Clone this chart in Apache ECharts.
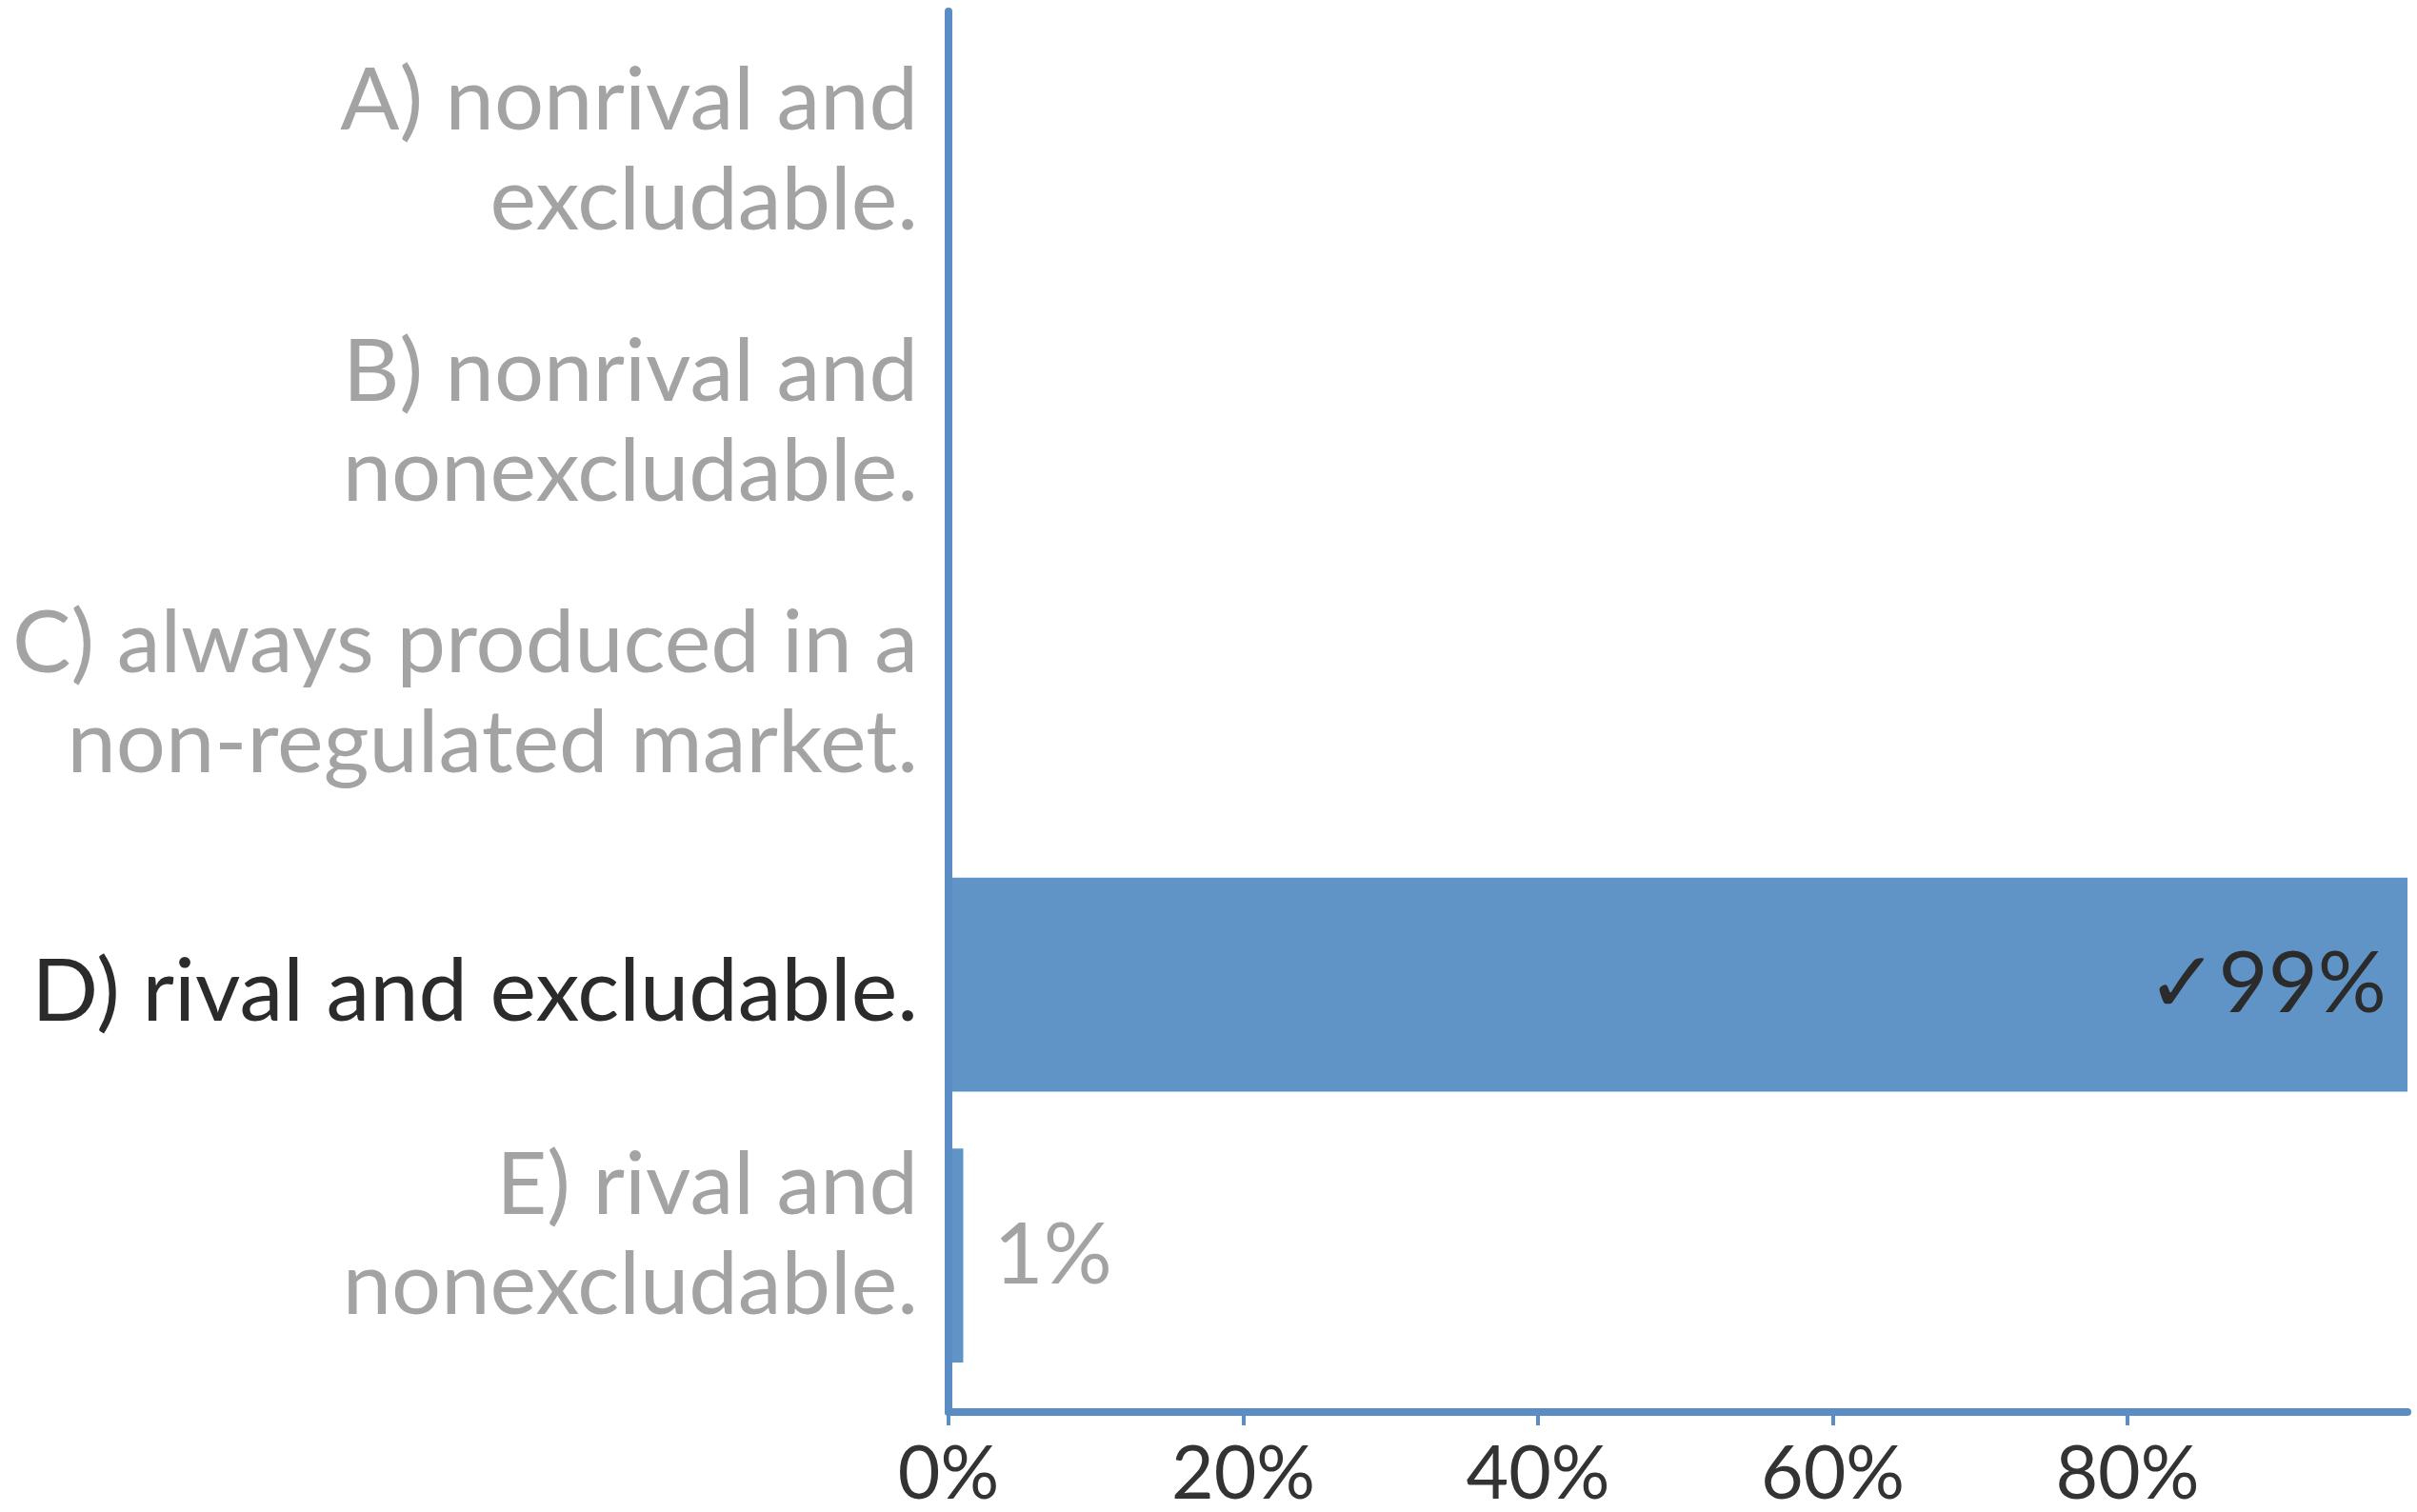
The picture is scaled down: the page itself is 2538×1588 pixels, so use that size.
<!DOCTYPE html>
<html>
<head>
<meta charset="utf-8">
<title>Poll results</title>
<script src="https://cdn.jsdelivr.net/npm/echarts@6/dist/echarts.min.js"></script>
<style>
  html, body { margin: 0; padding: 0; background: #ffffff; }
  #chart { width: 2538px; height: 1588px; }
</style>
</head>
<body>
<div id="chart"></div>
<script>
// Answer options (top to bottom) and share of responses, in percent
const categories = [
  'A) nonrival and\nexcludable.',
  'B) nonrival and\nnonexcludable.',
  'C) always produced in a\nnon-regulated market.',
  'D) rival and excludable.',
  'E) rival and\nnonexcludable.'
];
const shares = [0, 0, 0, 99, 1];
const correct = [false, false, false, true, false];
const xTicks = [0, 20, 40, 60, 80];

const FONT = 'Lato, "Source Sans Pro", "Liberation Sans", sans-serif';
const BLUE = '#6194c6';
const AXIS_BLUE = '#5b8cc4';
const GREY = '#a3a3a3';
const DARK = '#2b2b2b';

const xMax = Math.max(...shares);

// Answer label: two-line labels sit a little above the band centre,
// single-line ones a little below, using thin spacer lines.
function answerLabel(value, index) {
  const style = correct[index] ? 'k' : 'g';
  const lines = value.split('\n').map(l => '{' + style + '|' + l + '}');
  if (lines.length > 1) {
    return lines.join('\n') + '\n{lo| }';
  }
  return '{hi| }\n' + lines[0];
}

const chart = echarts.init(document.getElementById('chart'), null, { renderer: 'canvas' });

chart.setOption({
  animation: false,
  backgroundColor: '#ffffff',
  grid: [
    // frame carrying the axis lines and percentage ticks
    { left: 996, right: 10, top: 12, bottom: 97 },
    // inner band area holding the bars and answer labels
    { left: 996, right: 10, top: 38, bottom: 127 }
  ],
  xAxis: [
    {
      gridIndex: 0,
      type: 'value',
      min: 0,
      max: xMax,
      interval: 20,
      z: 5,
      axisLine: { show: true, lineStyle: { color: AXIS_BLUE, width: 8 } },
      axisTick: { show: true, length: 14, lineStyle: { color: AXIS_BLUE, width: 4 } },
      splitLine: { show: false },
      axisLabel: {
        fontFamily: FONT,
        fontSize: 77,
        color: '#333333',
        margin: 28,
        showMaxLabel: false,
        formatter: v => (xTicks.includes(v) ? v + '%' : '')
      }
    },
    {
      gridIndex: 1,
      type: 'value',
      min: 0,
      max: xMax,
      show: false
    }
  ],
  yAxis: [
    {
      gridIndex: 0,
      type: 'value',
      min: 0,
      max: 1,
      z: 5,
      axisLine: { show: true, lineStyle: { color: AXIS_BLUE, width: 8 } },
      axisTick: { show: false },
      axisLabel: { show: false },
      splitLine: { show: false }
    },
    {
      gridIndex: 1,
      type: 'category',
      inverse: true,
      data: categories,
      axisLine: { show: false },
      axisTick: { show: false },
      splitLine: { show: false },
      axisLabel: {
        interval: 0,
        margin: 32,
        align: 'right',
        formatter: answerLabel,
        rich: {
          g: { fontFamily: FONT, fontSize: 92, lineHeight: 105, color: GREY, align: 'right' },
          k: { fontFamily: FONT, fontSize: 92, lineHeight: 105, color: DARK, align: 'right' },
          lo: { fontSize: 1, lineHeight: 42 },
          hi: { fontSize: 1, lineHeight: 16 }
        }
      }
    }
  ],
  series: [
    {
      type: 'bar',
      xAxisIndex: 1,
      yAxisIndex: 1,
      barCategoryGap: '21%',
      data: shares.map((v, i) => ({
        value: v,
        label: {
          show: v > 0,
          position: correct[i] ? 'insideRight' : 'right',
          distance: correct[i] ? 22 : 32,
          color: correct[i] ? DARK : GREY,
          fontFamily: FONT,
          fontSize: 90,
          formatter: (correct[i] ? '\u2713' : '') + v + '%'
        }
      })),
      itemStyle: { color: BLUE },
      emphasis: { disabled: true }
    }
  ]
});
</script>
</body>
</html>
